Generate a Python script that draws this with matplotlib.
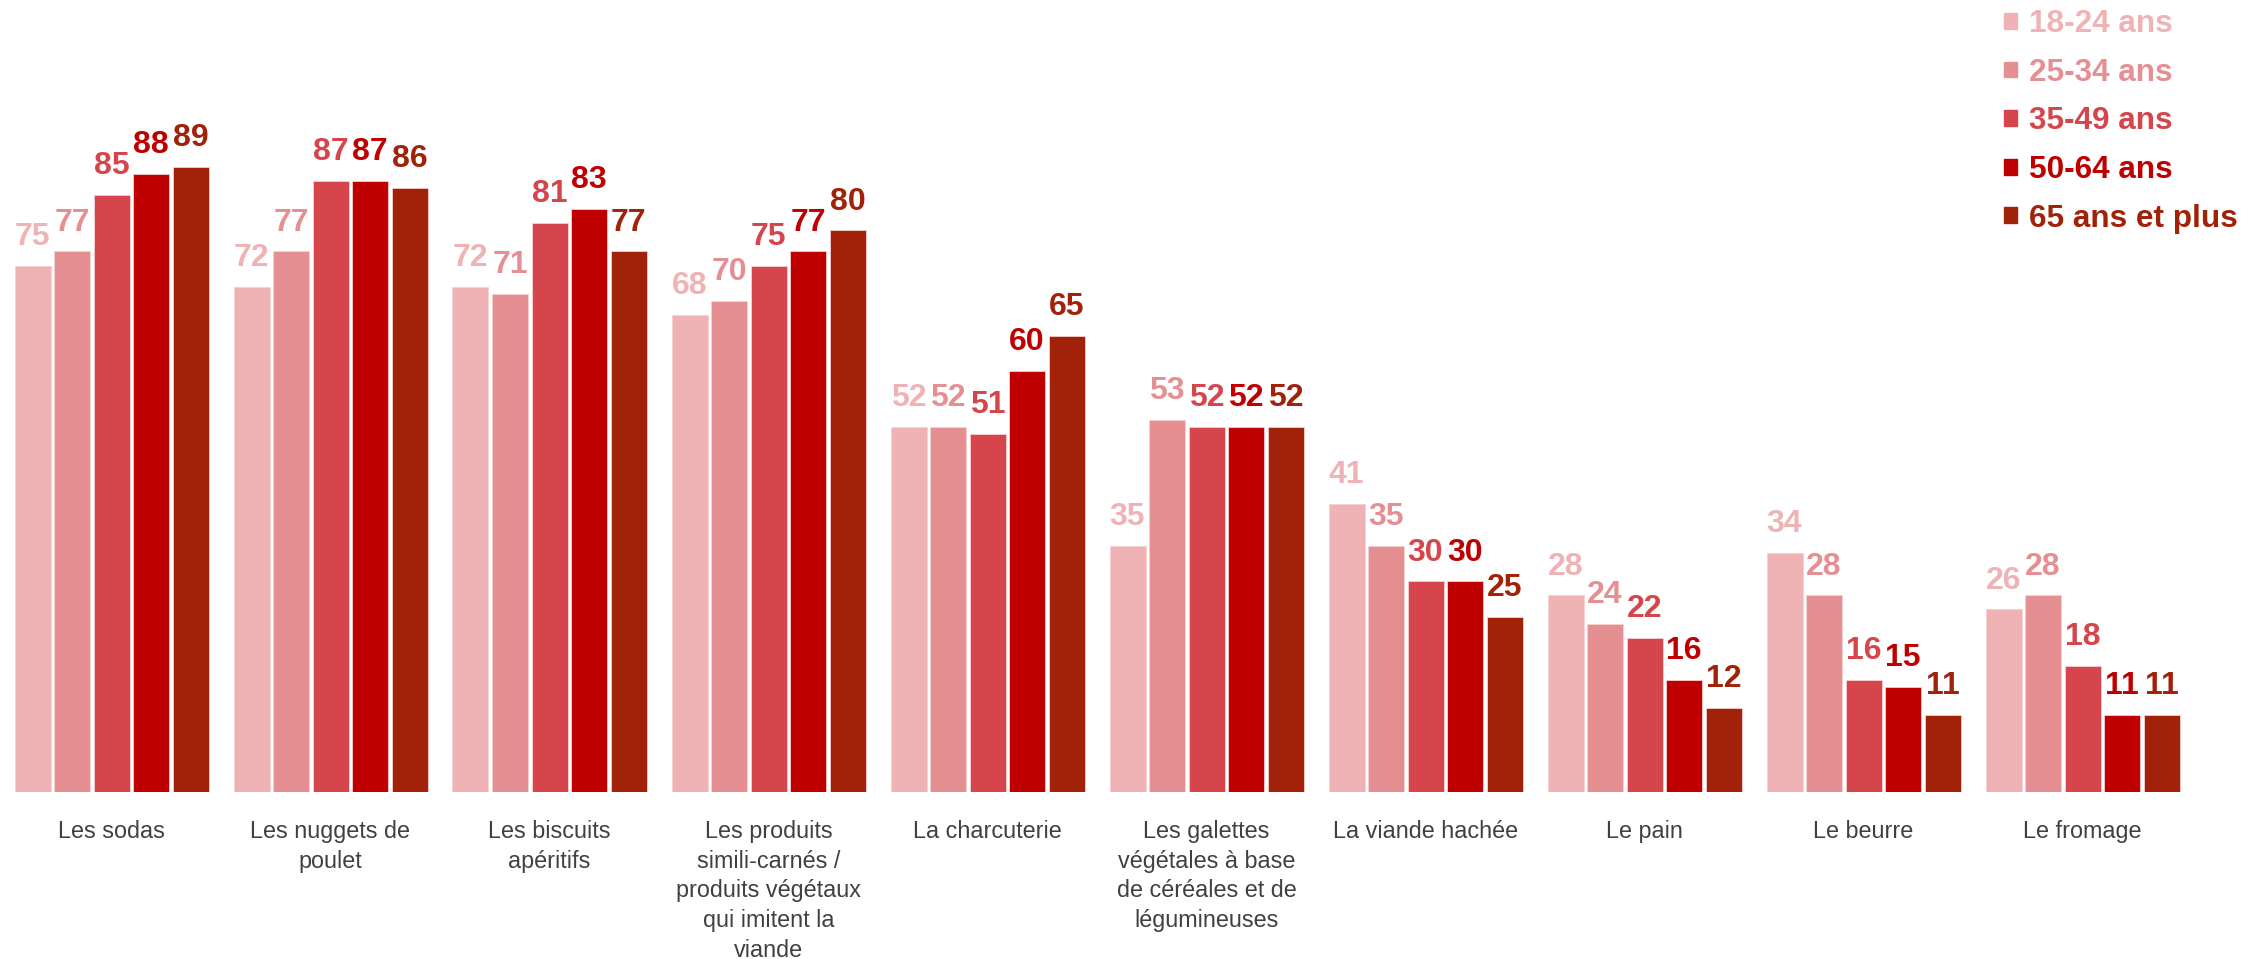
import matplotlib
matplotlib.use("Agg")
import matplotlib.pyplot as plt
from matplotlib.patches import Patch
import numpy as np

categories = [
    "Les sodas",
    "Les nuggets de\npoulet",
    "Les biscuits\napéritifs",
    "Les produits\nsimili-carnés /\nproduits végétaux\nqui imitent la\nviande",
    "La charcuterie",
    "Les galettes\nvégétales à base\nde céréales et de\nlégumineuses",
    "La viande hachée",
    "Le pain",
    "Le beurre",
    "Le fromage",
]
series_names = ["18-24 ans", "25-34 ans", "35-49 ans", "50-64 ans", "65 ans et plus"]
v_18_24 = [75, 72, 72, 68, 52, 35, 41, 28, 34, 26]
v_25_34 = [77, 77, 71, 70, 52, 53, 35, 24, 28, 28]
v_35_49 = [85, 87, 81, 75, 51, 52, 30, 22, 16, 18]
v_50_64 = [88, 87, 83, 77, 60, 52, 30, 16, 15, 11]
v_65_plus = [89, 86, 77, 80, 65, 52, 25, 12, 11, 11]
series_values = [v_18_24, v_25_34, v_35_49, v_50_64, v_65_plus]
colors = ["#EFB3B5", "#E58F93", "#D6454C", "#C00000", "#A12208"]

W, H = 2262, 959
fig = plt.figure(figsize=(W / 100, H / 100), dpi=100)
base_px = 792
ax = fig.add_axes([0, (H - base_px) / H, 1, base_px / H])

pitch_px = 219.0
c0_px = 111.5
ax.set_xlim(-c0_px / pitch_px, (W - c0_px) / pitch_px)
ax.set_ylim(0, base_px / 7.02)

x = np.arange(len(categories))
slot = 39.5 / pitch_px
bw = 36.0 / pitch_px
for k, (vals, col) in enumerate(zip(series_values, colors)):
    pos = x + (k - 2) * slot
    ax.bar(pos, vals, width=bw, color=col, edgecolor="#f6d0d0", linewidth=0.6)
    for xi, v in zip(pos, vals):
        ax.annotate(str(v), (xi, v), xytext=(0, 10), textcoords="offset points",
                    ha="center", va="bottom", fontsize=23, fontweight="bold",
                    color=col, family=["Liberation Sans", "DejaVu Sans"])

ax.set_xticks(x)
ax.set_xticklabels(categories, fontsize=16.8, color="#404040", linespacing=1.38,
                   family=["Liberation Sans Narrow", "Liberation Sans", "DejaVu Sans"], va="top")
ax.tick_params(axis="x", length=0, pad=20)
ax.set_yticks([])
for s in ax.spines.values():
    s.set_visible(False)

handles = [Patch(facecolor=c, edgecolor=c) for c in colors]
leg = fig.legend(handles, series_names, loc="upper left",
                 bbox_to_anchor=(2001 / W, 1.0 - 6 / H), frameon=False,
                 prop={"family": ["Liberation Sans", "DejaVu Sans"], "weight": "bold", "size": 22.7},
                 handlelength=0.4, handleheight=0.4, handletextpad=0.4,
                 labelspacing=0.59, borderpad=0.1, borderaxespad=0)
for t, c in zip(leg.get_texts(), colors):
    t.set_color(c)

fig.savefig("out.png", dpi=100)
